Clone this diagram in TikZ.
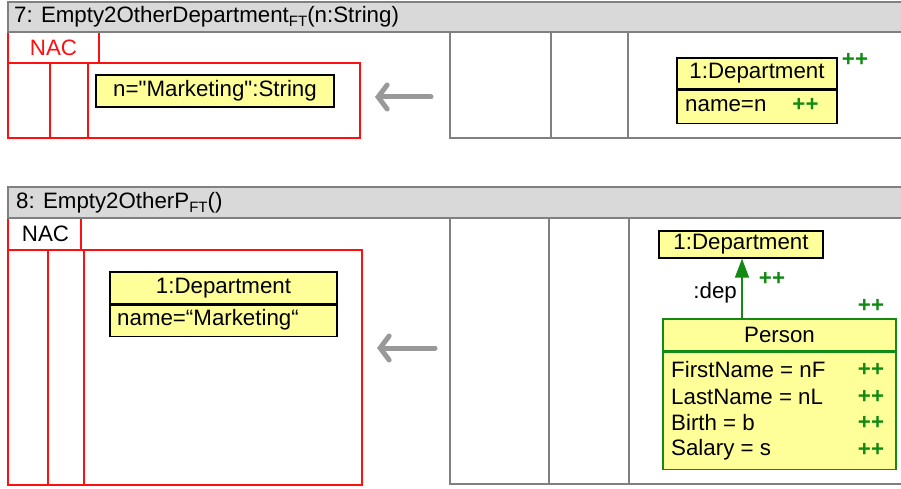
\documentclass[tikz,border=0pt]{standalone}
\usepackage{fontspec}
\setmainfont{Liberation Sans}[Ligatures=TeXOff]
\usetikzlibrary{arrows.meta}
\definecolor{hdrfill}{HTML}{D9D9D9}
\definecolor{frame}{HTML}{808080}
\definecolor{arrowgray}{HTML}{999999}
\definecolor{ylw}{HTML}{FFFF99}
\definecolor{grn}{HTML}{138A13}
\definecolor{nacred}{HTML}{FF1010}
\begin{document}
\begin{tikzpicture}[x=1pt,y=-1pt,
  every node/.style={font=\fontsize{22.3}{25}\selectfont, inner sep=0pt},
  frameline/.style={draw=frame, line width=2pt},
  hdrbox/.style={draw=frame, fill=hdrfill, line width=2pt},
  nacline/.style={draw=nacred, line width=2pt},
  ybox/.style={draw=black, fill=ylw, line width=1.3pt, rectangle},
  gbox/.style={draw=grn, fill=ylw, line width=1.5pt, rectangle},
  plus/.style={text=grn, font=\fontsize{22.3}{25}\selectfont\bfseries},
  revarrow/.style={draw=arrowgray, line width=5pt, line cap=round, -{Straight Barb[length=9pt,width=24pt,line cap=round]}}
]
\useasboundingbox (0,0) rectangle (901,489);

% ---------------- Panel 7 ----------------
\draw[nacline] (8,32) rectangle (99,63);
\draw[nacline] (8,63) rectangle (360,138);
\draw[nacline] (50,63) -- (50,138);
\draw[nacline] (88,63) -- (88,138);
\draw[frameline] (450,32) -- (450,138) -- (903,138);
\draw[frameline] (551,32) -- (551,138);
\draw[frameline] (628,32) -- (628,138);
\draw[hdrbox] (8,2) rectangle (904,32);
\node[anchor=west] (h7) at (14,17) {7: Empty2OtherDepartment\raisebox{-4pt}{\fontsize{15}{15}\selectfont FT}(n:String)};
\node[text=nacred] (nac7) at (53.5,48) {NAC};
\node[ybox, minimum width=238pt, minimum height=32pt] (val7) at (215,91) {n="Marketing":String};
\coordinate (a7s) at (431,97);
\coordinate (a7e) at (375,97);
\draw[revarrow] (a7s) -- (a7e);
\node[ybox, minimum width=160pt, minimum height=31pt] (d7h) at (757,73.5) {1:Department};
\node[ybox, minimum width=160pt, minimum height=33pt, anchor=north] (d7a) at (d7h.south) {};
\node[anchor=west] (d7n) at (685,105.5) {name=n};
\node[plus] (d7p) at (805.5,105) {++};
\node[plus] (d7pp) at (855,60) {++};

% ---------------- Panel 8 ----------------
\draw[nacline] (8,218) rectangle (81,250);
\draw[nacline] (8,250) rectangle (362,485);
\draw[nacline, line width=1.3pt] (48,250) -- (48,485);
\draw[nacline] (84,250) -- (84,485);
\draw[frameline] (450,218) -- (450,484) -- (903,484);
\draw[frameline] (549,218) -- (549,484);
\draw[frameline] (629,218) -- (629,484);
\draw[hdrbox] (8,187) rectangle (904,218);
\node[anchor=west] (h8) at (16,203) {8: Empty2OtherP\raisebox{-4pt}{\fontsize{15}{15}\selectfont FT}()};
\node (nac8) at (45.5,234) {NAC};
\node[ybox, minimum width=227pt, minimum height=32pt] (d8nh) at (223.5,288) {1:Department};
\node[ybox, minimum width=227pt, minimum height=31pt, anchor=north] (d8na) at (d8nh.south) {};
\node[anchor=west] (d8nn) at (117,319.5) {name=“Marketing“};
\coordinate (a8s) at (435,348);
\coordinate (a8e) at (377,348);
\draw[revarrow] (a8s) -- (a8e);
\node[ybox, minimum width=164pt, minimum height=27pt] (d8) at (741,244.5) {1:Department};
\node[gbox, minimum width=233pt, minimum height=32pt] (ph) at (779.5,335) {Person};
\node[gbox, minimum width=233pt, minimum height=117pt, anchor=north] (pa) at (ph.south) {};
\draw[draw=grn, line width=1.5pt, -{Triangle[length=19pt,width=14pt]}] (ph.north -| 742,0) -- (d8.south -| 742,0);
\node[anchor=east] (dep) at (737,293) {:dep};
\node[plus] (depp) at (772,279) {++};
\node[plus] (pp) at (871,306) {++};
\node[anchor=west] (r1) at (671,370) {FirstName = nF};
\node[anchor=west] (r2) at (671,397) {LastName = nL};
\node[anchor=west] (r3) at (671,423) {Birth = b};
\node[anchor=west] (r4) at (671,450) {Salary = s};
\node[plus] (r1p) at (871,370) {++};
\node[plus] (r2p) at (871,397) {++};
\node[plus] (r3p) at (871,423) {++};
\node[plus] (r4p) at (871,450) {++};
\end{tikzpicture}
\end{document}
